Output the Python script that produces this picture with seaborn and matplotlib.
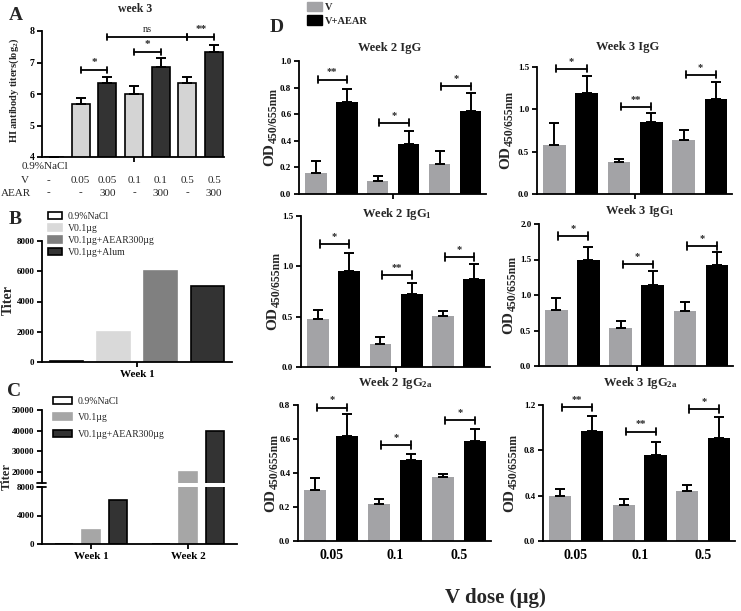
import numpy as np
import pandas as pd
import matplotlib
matplotlib.use('Agg')
import matplotlib.pyplot as plt
import seaborn as sns
from matplotlib.patches import Patch

# ---- data ----
# A: HI titers week 3 (log2)
a_groups = ['NaCl', 'V0.05', 'V0.05+AEAR', 'V0.1', 'V0.1+AEAR', 'V0.5', 'V0.5+AEAR']
a_mean = [4.0, 5.67, 6.34, 6.0, 6.85, 6.34, 7.34]
a_err = [0.0, 0.21, 0.21, 0.25, 0.30, 0.21, 0.21]
a_v_row = ['-', '0.05', '0.05', '0.1', '0.1', '0.5', '0.5']
a_aear_row = ['-', '-', '300', '-', '300', '-', '300']
a_sig_pairs = [(1, 2), (3, 4), (2, 5), (5, 6)]
a_sig_y = [6.76, 7.34, 7.8, 7.8]
a_sig_text = ['*', '*', 'ns', '**']

# B: week 1 titers
b_groups = ['0.9%NaCl', 'V0.1µg', 'V0.1µg+AEAR300µg', 'V0.1µg+Alum']
b_titer = [40, 2000, 6000, 5000]

# C: week 1 / week 2 titers
c_weeks = ['Week 1', 'Week 2']
c_groups = ['0.9%NaCl', 'V0.1µg', 'V0.1µg+AEAR300µg']
c_nacl = [80, 80]
c_v = [2000, 20000]
c_aear = [6100, 40000]

# D: ELISA OD by V dose
d_doses = ['0.05', '0.1', '0.5']

w2_igg_v = [0.155, 0.10, 0.225]
w2_igg_v_err = [0.095, 0.035, 0.10]
w2_igg_aear = [0.69, 0.375, 0.625]
w2_igg_aear_err = [0.10, 0.10, 0.135]
w2_igg_sig_y = [0.86, 0.535, 0.81]
w2_igg_sig = ['**', '*', '*']

w3_igg_v = [0.58, 0.373, 0.636]
w3_igg_v_err = [0.26, 0.04, 0.12]
w3_igg_aear = [1.19, 0.856, 1.127]
w3_igg_aear_err = [0.20, 0.10, 0.20]
w3_igg_sig_y = [1.48, 1.03, 1.41]
w3_igg_sig = ['*', '**', '*']

w2_igg1_v = [0.475, 0.23, 0.51]
w2_igg1_v_err = [0.09, 0.07, 0.05]
w2_igg1_aear = [0.95, 0.73, 0.875]
w2_igg1_aear_err = [0.18, 0.10, 0.145]
w2_igg1_sig_y = [1.22, 0.91, 1.09]
w2_igg1_sig = ['*', '**', '*']

w3_igg1_v = [0.79, 0.53, 0.78]
w3_igg1_v_err = [0.165, 0.10, 0.12]
w3_igg1_aear = [1.50, 1.14, 1.42]
w3_igg1_aear_err = [0.175, 0.20, 0.18]
w3_igg1_sig_y = [1.83, 1.43, 1.69]
w3_igg1_sig = ['*', '*', '*']

w2_igg2a_v = [0.30, 0.215, 0.376]
w2_igg2a_v_err = [0.07, 0.035, 0.018]
w2_igg2a_aear = [0.62, 0.476, 0.59]
w2_igg2a_aear_err = [0.13, 0.034, 0.07]
w2_igg2a_sig_y = [0.785, 0.565, 0.71]
w2_igg2a_sig = ['*', '*', '*']

w3_igg2a_v = [0.40, 0.32, 0.44]
w3_igg2a_v_err = [0.06, 0.05, 0.05]
w3_igg2a_aear = [0.97, 0.76, 0.91]
w3_igg2a_aear_err = [0.13, 0.11, 0.18]
w3_igg2a_sig_y = [1.18, 0.965, 1.165]
w3_igg2a_sig = ['**', '**', '*']

# ---- style ----
sns.set_style('ticks')
plt.rcParams['font.family'] = ['Liberation Serif', 'DejaVu Serif']
plt.rcParams['font.weight'] = 'bold'
plt.rcParams['axes.labelweight'] = 'bold'
plt.rcParams['mathtext.fontset'] = 'custom'
plt.rcParams['mathtext.rm'] = 'Liberation Serif:bold'
plt.rcParams['mathtext.it'] = 'Liberation Serif:bold'
plt.rcParams['mathtext.bf'] = 'Liberation Serif:bold'
plt.rcParams['mathtext.default'] = 'rm'
plt.rcParams['axes.linewidth'] = 1.3
plt.rcParams['axes.edgecolor'] = 'black'
plt.rcParams['xtick.major.width'] = 1.3
plt.rcParams['ytick.major.width'] = 1.3
plt.rcParams['xtick.minor.width'] = 1.3
plt.rcParams['xtick.major.size'] = 3.5
plt.rcParams['ytick.major.size'] = 3.5
plt.rcParams['xtick.color'] = 'black'
plt.rcParams['ytick.color'] = 'black'

W, H = 741, 611
fig = plt.figure(figsize=(W / 100, H / 100), dpi=100)
renderer = fig.canvas.get_renderer()


def box(l, t, r, b):
    return [l / W, 1 - b / H, (r - l) / W, (b - t) / H]


def fx(x):
    return x / W


def fy(y):
    return 1 - y / H


def bracket(ax, x1, x2, y, text, h, fs=8, weight='bold'):
    kw = dict(color='black', lw=1.3, clip_on=False)
    ax.plot([x1, x2], [y, y], **kw)
    ax.plot([x1, x1], [y - h, y + h], **kw)
    ax.plot([x2, x2], [y - h, y + h], **kw)
    ax.text((x1 + x2) / 2, y + h * 0.9, text, ha='center', va='bottom',
            fontsize=fs, fontweight=weight)


def add_errors(ax, means, errs):
    xs = [p.get_x() + p.get_width() / 2 for p in ax.patches]
    ax.errorbar(xs, means, yerr=[np.zeros(len(errs)), errs], fmt='none',
                ecolor='black', elinewidth=1.4, capsize=3.5, capthick=1.4)


def od_label(x_base, y_mid, fs1=11, fs2=8.5):
    # "OD" + subscript, rotated, centred on y_mid (pixels)
    kw = dict(rotation=90, rotation_mode='anchor', ha='left', va='baseline')
    t1 = fig.text(0, 0, 'OD', fontsize=fs1, **kw)
    t2 = fig.text(0, 0, '450/655nm', fontsize=fs2, **kw)
    l1 = t1.get_window_extent(renderer).height
    l2 = t2.get_window_extent(renderer).height
    y0 = y_mid + (l1 + l2) / 2
    t1.set_position((fx(x_base), fy(y0)))
    t2.set_position((fx(x_base + 3.5), fy(y0 - l1 - 0.5)))


# ---- A ----
axA = fig.add_axes(box(42, 31, 224, 157))
dfA = pd.DataFrame({'group': a_groups, 'titer': a_mean})
a_colors = ['white'] + ['#d4d4d4', '#333333'] * 3
sns.barplot(data=dfA, x='group', y='titer', hue='group', palette=a_colors,
            width=0.67, edgecolor='black', linewidth=1.2, legend=False, ax=axA)
add_errors(axA, a_mean, a_err)
axA.set_xlim(-0.45, 6.37)
axA.set_ylim(4, 8)
axA.set_yticks([4, 5, 6, 7, 8])
axA.set_xticks([3])
axA.set_xticklabels([''])
axA.set_xlabel('')
axA.set_ylabel('')
axA.tick_params(axis='y', labelsize=7, pad=2)
sns.despine(ax=axA)
for (i1, i2), yv, t in zip(a_sig_pairs, a_sig_y, a_sig_text):
    bracket(axA, i1, i2, yv, t, 0.1, fs=8 if t != 'ns' else 7.5,
            weight='bold' if t != 'ns' else 'normal')
fig.text(fx(14), fy(90), 'HI antibody titers(log$_2$)', rotation=90,
         ha='center', va='center', fontsize=7.5)
tr = axA.get_xaxis_transform()
axA.text(-0.11, -0.075, '0.9%NaCl', transform=axA.transAxes, ha='left',
         va='center', fontsize=8, fontweight='normal')
axA.text(-0.115, -0.19, 'V', transform=axA.transAxes, ha='left',
         va='center', fontsize=8, fontweight='normal')
axA.text(-0.225, -0.286, 'AEAR', transform=axA.transAxes, ha='left',
         va='center', fontsize=8, fontweight='normal')
for i, (v, a) in enumerate(zip(a_v_row, a_aear_row)):
    axA.text(i - (0.2 if i == 0 else 0), -0.19, v, transform=tr, ha='center',
             va='center', fontsize=8, fontweight='normal')
    axA.text(i - (0.2 if i == 0 else 0), -0.286, a, transform=tr, ha='center',
             va='center', fontsize=8, fontweight='normal')
fig.text(fx(135), fy(9), 'week 3', ha='center', va='center', fontsize=8.5)
fig.text(fx(16), fy(16), 'A', ha='center', va='center', fontsize=14)

# ---- B ----
axB = fig.add_axes(box(42, 241, 232, 362))
dfB = pd.DataFrame({'week': ['Week 1'] * 4, 'group': b_groups, 'titer': b_titer})
b_colors = ['white', '#d9d9d9', '#808080', '#333333']
b_edges = ['black', '#d9d9d9', '#808080', 'black']
sns.barplot(data=dfB, x='week', y='titer', hue='group', palette=b_colors,
            width=0.8, gap=0.3, legend=False, ax=axB, linewidth=1.2)
for p, ec in zip(axB.patches, b_edges):
    p.set_edgecolor(ec)
axB.set_xlim(-0.404, 0.404)
axB.set_ylim(0, 8000)
axB.set_yticks([0, 2000, 4000, 6000, 8000])
axB.tick_params(axis='y', labelsize=6.5, pad=2)
axB.tick_params(axis='x', labelsize=8, pad=2)
axB.set_xlabel('')
axB.set_ylabel('')
sns.despine(ax=axB)
fig.text(fx(8), fy(300), 'Titer', rotation=90, ha='center', va='center', fontsize=10)
fig.legend(handles=[Patch(facecolor=c, edgecolor=e, lw=1.2) for c, e in zip(b_colors, b_edges)],
           labels=b_groups, loc='upper left', bbox_to_anchor=(fx(48), fy(212)),
           frameon=False, handlelength=1.45, handleheight=0.75, labelspacing=0.3,
           handletextpad=0.6, borderpad=0, borderaxespad=0,
           prop={'size': 7, 'weight': 'normal'})
fig.text(fx(15), fy(220), 'B', ha='center', va='center', fontsize=14)

# ---- C (broken y axis) ----
dfC = pd.DataFrame({
    'week': c_weeks * 3,
    'group': [g for g in c_groups for _ in c_weeks],
    'titer': c_nacl + c_v + c_aear,
})
c_colors = ['white', '#a6a6a6', '#333333']
c_edges = ['black', '#a6a6a6', 'black']
axCt = fig.add_axes(box(42, 410, 237, 482.5))
axCb = fig.add_axes(box(42, 486.7, 237, 544.3))
for ax in (axCt, axCb):
    sns.barplot(data=dfC, x='week', y='titer', hue='group', palette=c_colors,
                width=0.835, gap=0.31, legend=False, ax=ax, linewidth=1.2)
    for p, ec in zip(ax.patches, [e for e in c_edges for _ in c_weeks]):
        p.set_edgecolor(ec)
    ax.set_xlim(-0.505, 1.505)
    ax.set_xlabel('')
    ax.set_ylabel('')
    ax.tick_params(axis='y', labelsize=6.5, pad=2)
axCt.set_ylim(15000, 50000)
axCt.set_yticks([20000, 30000, 40000, 50000])
axCt.set_xticks([])
sns.despine(ax=axCt, bottom=True)
axCb.set_ylim(0, 8000)
axCb.set_yticks([0, 4000, 8000])
axCb.tick_params(axis='x', labelsize=8, pad=2)
sns.despine(ax=axCb)
axCt.plot([-0.025, 0.02], [0, 0], transform=axCt.transAxes, color='black',
          lw=1.3, clip_on=False)
axCb.plot([-0.025, 0.02], [1, 1], transform=axCb.transAxes, color='black',
          lw=1.3, clip_on=False)
fig.text(fx(7), fy(477), 'Titer', rotation=90, ha='center', va='center', fontsize=9)
fig.legend(handles=[Patch(facecolor=c, edgecolor=e, lw=1.2) for c, e in zip(c_colors, c_edges)],
           labels=c_groups, loc='upper left', bbox_to_anchor=(fx(53), fy(397)),
           frameon=False, handlelength=1.95, handleheight=0.7, labelspacing=0.75,
           handletextpad=0.6, borderpad=0, borderaxespad=0,
           prop={'size': 7, 'weight': 'normal'})
fig.text(fx(14), fy(391), 'C', ha='center', va='center', fontsize=14)

# ---- D ----
d_panels = [
    ((299, 61, 486, 194), 273, 'Week 2 IgG', (390, 48), 1.0, 0.2,
     w2_igg_v, w2_igg_v_err, w2_igg_aear, w2_igg_aear_err, w2_igg_sig_y, w2_igg_sig),
    ((537, 67, 732, 194), 509, 'Week 3 IgG', (628, 47), 1.5, 0.5,
     w3_igg_v, w3_igg_v_err, w3_igg_aear, w3_igg_aear_err, w3_igg_sig_y, w3_igg_sig),
    ((301, 216, 490, 367), 276, 'Week 2 IgG$_1$', (397, 214), 1.5, 0.5,
     w2_igg1_v, w2_igg1_v_err, w2_igg1_aear, w2_igg1_aear_err, w2_igg1_sig_y, w2_igg1_sig),
    ((539, 224, 733, 366), 512, 'Week 3 IgG$_1$', (640, 211), 2.0, 0.5,
     w3_igg1_v, w3_igg1_v_err, w3_igg1_aear, w3_igg1_aear_err, w3_igg1_sig_y, w3_igg1_sig),
    ((298, 405, 491, 541), 274, 'Week 2 IgG$_{2a}$', (395, 383), 0.8, 0.2,
     w2_igg2a_v, w2_igg2a_v_err, w2_igg2a_aear, w2_igg2a_aear_err, w2_igg2a_sig_y, w2_igg2a_sig),
    ((543, 405, 735, 541), 513, 'Week 3 IgG$_{2a}$', (640, 383), 1.2, 0.4,
     w3_igg2a_v, w3_igg2a_v_err, w3_igg2a_aear, w3_igg2a_aear_err, w3_igg2a_sig_y, w3_igg2a_sig),
]
d_colors = ['#a3a3a6', '#000000']
for k, (rect, lab_x, title, tpos, ymax, ystep, v, ve, a, ae, sy, st) in enumerate(d_panels):
    ax = fig.add_axes(box(*rect))
    df = pd.DataFrame({'dose': d_doses * 2,
                       'group': ['V'] * 3 + ['V+AEAR'] * 3,
                       'od': v + a})
    sns.barplot(data=df, x='dose', y='od', hue='group', palette=d_colors,
                width=1.0, gap=0.3, legend=False, ax=ax, linewidth=0)
    add_errors(ax, v + a, ve + ae)
    ax.set_xlim(-0.52, 2.5)
    ax.set_ylim(0, ymax)
    ticks = np.arange(0, ymax + 1e-9, ystep)
    ax.set_yticks(ticks)
    ax.set_yticklabels([f'{t:.1f}' for t in ticks])
    ax.tick_params(axis='y', labelsize=6.5, pad=2)
    ax.set_xlabel('')
    ax.set_ylabel('')
    ax.set_xticks([1], minor=True)
    ax.tick_params(axis='x', which='minor', length=3.5)
    if k >= 4:
        ax.set_xticks([0, 1, 2])
        ax.set_xticklabels(d_doses)
        ax.tick_params(axis='x', which='major', length=0, labelsize=10, pad=6)
    else:
        ax.set_xticks([])
    sns.despine(ax=ax)
    h = ymax * 0.027
    for i, (yv, t) in enumerate(zip(sy, st)):
        bracket(ax, i - 0.22, i + 0.25, yv, t, h, fs=7.5)
    od_label(lab_x, (rect[1] + rect[3]) / 2)
    fig.text(fx(tpos[0]), fy(tpos[1]), title, ha='center', va='center', fontsize=9)

fig.legend(handles=[Patch(facecolor=c, edgecolor=c) for c in d_colors],
           labels=['V', 'V+AEAR'], loc='upper left', bbox_to_anchor=(fx(307), fy(2)),
           frameon=False, handlelength=1.45, handleheight=1.0, labelspacing=0.3,
           handletextpad=0.3, borderpad=0, borderaxespad=0,
           prop={'size': 7.5, 'weight': 'bold'})
fig.text(fx(277), fy(27), 'D', ha='center', va='center', fontsize=14)
fig.text(fx(495), fy(598), 'V dose (µg)', ha='center', va='center', fontsize=15)

fig.savefig('out.png', dpi=100)
